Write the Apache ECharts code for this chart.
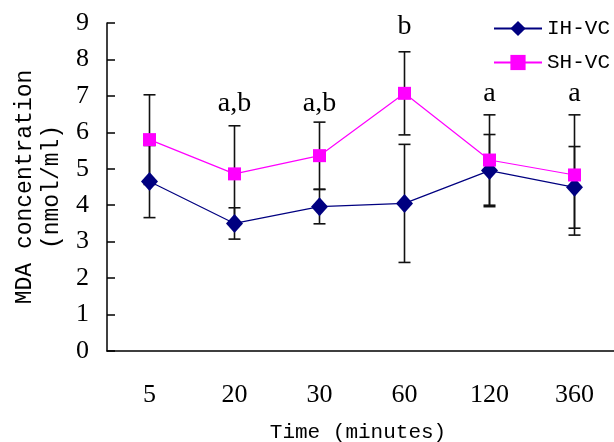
<!DOCTYPE html>
<html>
<head>
<meta charset="utf-8">
<script src="https://cdn.jsdelivr.net/npm/echarts@6/dist/echarts.min.js"></script>
<style>html,body{margin:0;padding:0;background:#fff;}#c{width:614px;height:442px;}</style>
</head>
<body>
<div id="c"></div>
<script>
const categories = ['5', '20', '30', '60', '120', '360'];
const yTicks = [0, 1, 2, 3, 4, 5, 6, 7, 8, 9];
const ihMean = [4.65, 3.50, 3.96, 4.05, 4.95, 4.49];
const ihErr  = [0.99, 0.43, 0.47, 1.62, 0.99, 1.12];
const shMean = [5.80, 4.86, 5.36, 7.07, 5.24, 4.83];
const shErr  = [1.23, 1.32, 0.92, 1.14, 1.24, 1.65];
const annotText = ['', 'a,b', 'a,b', 'b', 'a', 'a'];
const annotY    = [null, 6.78, 6.78, 8.9, 7.05, 7.05];

const errData = [];
categories.forEach((c, i) => {
  errData.push([i, ihMean[i] - ihErr[i], ihMean[i] + ihErr[i]]);
  errData.push([i, shMean[i] - shErr[i], shMean[i] + shErr[i]]);
});
const annotData = [];
categories.forEach((c, i) => { if (annotText[i]) annotData.push({ value: [i, annotY[i]], name: annotText[i] }); });

const chart = echarts.init(document.getElementById('c'), null, { renderer: 'canvas' });
const serif = 'Liberation Serif';
const mono = 'Liberation Mono';
chart.setOption({
  animation: false,
  backgroundColor: '#fff',
  grid: { left: 107, top: 23, width: 510, bottom: 91, containLabel: false, outerBoundsMode: 'none' },
  legend: {
    data: ['IH-VC', 'SH-VC'],
    orient: 'vertical',
    left: 493, top: 18,
    padding: 0,
    itemWidth: 48, itemHeight: 19, itemGap: 13,
    textStyle: { fontFamily: mono, fontSize: 21, color: '#000' }
  },
  xAxis: {
    type: 'category',
    data: categories,
    boundaryGap: true,
    name: 'Time (minutes)',
    nameLocation: 'middle',
    nameGap: 71,
    nameTextStyle: { fontFamily: mono, fontSize: 21, color: '#000', padding: [0, 8, 0, 0] },
    axisLine: { lineStyle: { color: '#000', width: 1.5 } },
    axisTick: { inside: true, length: 8, lineStyle: { color: '#000', width: 1.5 } },
    axisLabel: { fontFamily: serif, fontSize: 26, color: '#000', margin: 31 },
    splitLine: { show: false }
  },
  yAxis: {
    type: 'value',
    min: 0, max: 9, interval: 1,
    name: 'MDA concentration\n(nmol/ml)',
    nameLocation: 'middle',
    nameRotate: 90,
    nameGap: 41,
    nameTextStyle: { fontFamily: mono, fontSize: 23, lineHeight: 27, color: '#000', align: 'center' },
    axisLine: { show: true, lineStyle: { color: '#000', width: 1.5 } },
    axisTick: { show: true, inside: true, length: 8, lineStyle: { color: '#000', width: 1.5 } },
    axisLabel: { fontFamily: serif, fontSize: 26, color: '#000', margin: 18,
      formatter: v => yTicks.includes(v) ? String(v) : '' },
    splitLine: { show: false }
  },
  series: [
    {
      type: 'custom',
      name: 'err',
      data: errData,
      z: 1,
      renderItem: function (params, api) {
        const i = api.value(0);
        const lo = api.coord([i, api.value(1)]);
        const hi = api.coord([i, api.value(2)]);
        const hw = 6;
        const st = { stroke: '#111', lineWidth: 1.6 };
        return {
          type: 'group',
          children: [
            { type: 'line', shape: { x1: lo[0], y1: lo[1], x2: hi[0], y2: hi[1] }, style: st },
            { type: 'line', shape: { x1: lo[0] - hw, y1: lo[1], x2: lo[0] + hw, y2: lo[1] }, style: st },
            { type: 'line', shape: { x1: hi[0] - hw, y1: hi[1], x2: hi[0] + hw, y2: hi[1] }, style: st }
          ]
        };
      }
    },
    {
      type: 'line',
      name: 'IH-VC',
      data: ihMean,
      z: 3,
      symbol: 'diamond',
      symbolSize: [17, 19],
      itemStyle: { color: '#000080' },
      lineStyle: { color: '#000080', width: 1.2 }
    },
    {
      type: 'line',
      name: 'SH-VC',
      data: shMean,
      z: 4,
      symbol: 'rect',
      symbolSize: 13,
      itemStyle: { color: '#FF00FF' },
      lineStyle: { color: '#FF00FF', width: 1.2 }
    },
    {
      type: 'custom',
      name: 'annot',
      data: annotData,
      z: 5,
      renderItem: function (params, api) {
        const p = api.coord([api.value(0), api.value(1)]);
        return {
          type: 'text',
          style: { x: p[0], y: p[1], text: annotData[params.dataIndex].name,
            fontFamily: serif, fontSize: 28, fill: '#000', align: 'center', verticalAlign: 'middle' }
        };
      }
    }
  ]
});
</script>
</body>
</html>
